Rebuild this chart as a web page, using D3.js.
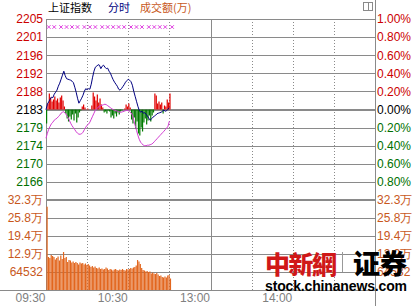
<!DOCTYPE html>
<html>
<head>
<meta charset="utf-8">
<script src="https://cdn.jsdelivr.net/npm/d3@7"></script>
<style>
  html, body { margin: 0; padding: 0; background: #fff; }
  svg { display: block; }
  text { font-family: "Liberation Sans", Arial, sans-serif; font-size: 12px; }
  .cjk { font-family: "Noto Sans CJK SC", sans-serif; }
</style>
</head>
<body>
<svg id="chart" width="419" height="306"></svg>
<script>
// Previous close of the index (0.00% line)
const prevClose = 2183.3;

// Tick labels
const pctTicks = [1, 0.8, 0.6, 0.4, 0.2, 0, -0.2, -0.4, -0.6, -0.8];
const priceLabels = ['2205', '2201', '2196', '2192', '2188', '2183', '2179', '2174', '2170', '2166'];
const pctLabels = ['1.00%', '0.80%', '0.60%', '0.40%', '0.20%', '0.00%', '0.20%', '0.40%', '0.60%', '0.80%'];
const volTicks = [322660, 258128, 193596, 129064, 64532];
const volLabels = ['32.3万', '25.8万', '19.4万', '12.9万', '64532'];
const timeTicks = [0, 60, 120, 180];
const timeLabels = ['09:30', '10:30', '13:00', '14:00'];
const dottedMinutes = [30, 60, 90, 150, 180, 210];
const solidMinutes = [0, 120, 240];

// Index per minute from 09:30
const prices = [
  2183.25, 2184.58, 2185.18, 2185.79, 2186.27, 2186.15, 2186.99, 2187.47, 2187.96, 2188.92,
  2189.65, 2190.61, 2191.58, 2192.54, 2191.46, 2190.73, 2190.61, 2190.49, 2190.37, 2190.13,
  2189.77, 2188.68, 2187.47, 2186.03, 2184.82, 2185.42, 2186.03, 2186.75, 2187.72, 2188.32,
  2188.08, 2188.32, 2188.20, 2189.40, 2191.09, 2192.54, 2193.51, 2193.75, 2194.11, 2193.99,
  2193.15, 2193.75, 2193.99, 2193.51, 2193.15, 2193.27, 2192.54, 2192.06, 2191.21, 2190.49,
  2189.89, 2189.40, 2188.92, 2188.20, 2187.96, 2188.32, 2188.80, 2189.28, 2189.89, 2190.25,
  2190.61, 2190.37, 2190.01, 2189.16, 2187.72, 2186.51, 2185.30, 2184.10, 2183.13, 2182.65,
  2182.89, 2182.41, 2182.53, 2182.17, 2181.68, 2181.20, 2180.72, 2181.08, 2181.44, 2181.68,
  2181.92, 2182.29, 2182.41, 2182.53, 2182.65, 2182.89, 2183.13, 2182.89, 2183.01, 2183.37,
  2183.73
];

// Unweighted index per minute
const unweighted = [
  2176.37, 2177.58, 2178.55, 2179.27, 2179.87, 2180.24, 2180.72, 2180.96, 2181.20, 2181.56,
  2181.92, 2182.41, 2182.65, 2182.77, 2182.41, 2181.92, 2181.44, 2180.72, 2179.99, 2179.39,
  2178.91, 2178.43, 2177.94, 2177.58, 2177.34, 2177.34, 2177.46, 2177.82, 2178.43, 2179.03,
  2179.51, 2179.75, 2180.24, 2180.96, 2181.68, 2182.41, 2183.13, 2183.49, 2183.85, 2184.10,
  2184.22, 2184.34, 2184.46, 2184.58, 2184.46, 2184.22, 2183.98, 2183.73, 2183.49, 2183.25,
  2183.13, 2183.01, 2182.89, 2182.77, 2182.65, 2182.65, 2182.77, 2182.89, 2183.01, 2183.13,
  2183.01, 2182.77, 2182.53, 2181.92, 2180.72, 2179.51, 2178.30, 2177.10, 2176.13, 2175.41,
  2175.05, 2174.69, 2174.56, 2174.56, 2174.69, 2174.69, 2174.81, 2174.93, 2175.17, 2175.53,
  2175.89, 2176.25, 2176.62, 2176.98, 2177.34, 2177.70, 2178.06, 2178.43, 2178.79, 2179.27,
  2180.48
];

// Buy / sell strength per minute (red up, green down)
const strength = [
  -14, 6, 16, 12, 8, 10, 13, 9, 11, 7,
  12, 14, 9, 3, -4, -9, -12, -7, -10, -5,
  -11, -4, -13, -8, -3, -1, 3, 5, 2, 0,
  1, 0, 0, 4, 17, 13, 9, 15, 7, 11,
  5, 2, -3, -2, -4, -1, -2, -8, -6, -9,
  -4, -7, -3, -5, -2, -1, 0, 1, 5, 3,
  6, 2, -10, -14, -8, -19, -12, -24, -26, -18,
  -22, -13, -9, -15, -11, -6, -12, -6, -3, 16,
  14, 6, 8, 5, 7, -4, 4, 3, 10, 7,
  16
];

// Turnover per minute (万)
const volumes = [
  298600, 118300, 114700, 125500, 121900, 118300, 109300, 114700, 120100, 105800,
  123700, 111100, 136200, 114700, 118300, 100400, 107500, 105800, 98600, 102200,
  96800, 100400, 96800, 91400, 98600, 95000, 96800, 91400, 95000, 89600,
  93200, 87800, 82500, 86000, 80700, 84200, 78900, 77100, 80700, 75300,
  77100, 73500, 75300, 80700, 77100, 71700, 75300, 73500, 69900, 73500,
  75300, 71700, 69900, 73500, 71700, 75300, 71700, 69900, 75300, 73500,
  75300, 78900, 77100, 80700, 82500, 87800, 107500, 102200, 93200, 78900,
  71700, 69900, 66300, 68100, 64500, 66300, 59200, 62700, 59200, 57400,
  60900, 55600, 50200, 52000, 46600, 44800, 48400, 44800, 52000, 53800,
  41200
];

// Minutes carrying the pink marker row
const markerMinutes = [2, 6, 11, 15, 19, 23, 28, 32, 36, 41, 45, 49, 53, 57, 62, 66, 70, 75, 79, 83, 87, 92];

const red = '#cc0000';
const green = '#007000';
const orange = '#c8581c';
const grid = '#8a8a8a';

const svg = d3.select('#chart');

// Layout
const plotLeft = 46, plotRight = 375, plotTop = 19, plotSplit = 200, plotBottom = 290;

// Scales
const x = d3.scaleLinear().domain([0, 240]).range([plotLeft, plotRight]);
const yPct = d3.scaleLinear().domain([-1, 1]).range([plotSplit, plotTop]);
const yPrice = p => yPct((p - prevClose) / prevClose * 100);
const yVol = d3.scaleLinear().domain([0, 322660]).range([plotBottom, plotSplit]);
const y0 = yPct(0);
const yForce = d3.scaleLinear().domain([-50, 50]).range([y0 + 50, y0 - 50]);

// Horizontal gridlines
const hLines = pctTicks.filter(d => d !== 0).map(yPct)
  .concat(volTicks.slice(1).map(yVol));
svg.append('g')
  .selectAll('line')
  .data(hLines)
  .enter().append('line')
    .attr('x1', plotLeft).attr('x2', plotRight)
    .attr('y1', d => Math.round(d) + 0.5).attr('y2', d => Math.round(d) + 0.5)
    .attr('stroke', grid).attr('stroke-width', 1);

// Thick lines: previous close and volume panel top
svg.append('g')
  .selectAll('line')
  .data([y0, yVol(322660)])
  .enter().append('line')
    .attr('x1', plotLeft).attr('x2', plotRight)
    .attr('y1', d => Math.round(d)).attr('y2', d => Math.round(d))
    .attr('stroke', grid).attr('stroke-width', 2);

// Vertical gridlines
svg.append('g')
  .selectAll('line')
  .data(dottedMinutes)
  .enter().append('line')
    .attr('x1', d => Math.round(x(d)) + 0.5).attr('x2', d => Math.round(x(d)) + 0.5)
    .attr('y1', plotTop).attr('y2', plotBottom)
    .attr('stroke', grid).attr('stroke-dasharray', '1,2');

svg.append('g')
  .selectAll('line')
  .data(solidMinutes)
  .enter().append('line')
    .attr('x1', d => Math.round(x(d)) + 0.5).attr('x2', d => Math.round(x(d)) + 0.5)
    .attr('y1', d => d === 240 ? 0 : plotTop).attr('y2', d => d === 240 ? 306 : plotBottom)
    .attr('stroke', grid);

// Bottom axis line
svg.append('line')
  .attr('x1', 0).attr('x2', plotRight)
  .attr('y1', plotBottom + 0.5).attr('y2', plotBottom + 0.5)
  .attr('stroke', grid);

// Volume bars
svg.append('g')
  .selectAll('rect')
  .data(volumes)
  .enter().append('rect')
    .attr('x', (d, i) => x(i) + 0.5)
    .attr('y', d => yVol(d))
    .attr('width', 1.2)
    .attr('height', d => plotBottom - yVol(d))
    .attr('fill', '#e2661e');

// Strength bars around the previous close
svg.append('g')
  .selectAll('rect')
  .data(strength)
  .enter().append('rect')
    .attr('x', (d, i) => x(i))
    .attr('y', d => Math.min(yForce(d), y0))
    .attr('width', 1.2)
    .attr('height', d => Math.abs(yForce(d) - y0))
    .attr('fill', d => d > 0 ? '#e00000' : '#007a00');

// Unweighted index line
const line = d3.line()
  .x((d, i) => x(i))
  .y(d => yPrice(d));

svg.append('path')
  .attr('d', line(unweighted))
  .attr('fill', 'none')
  .attr('stroke', '#d23cd2')
  .attr('stroke-width', 1);

// Index line
svg.append('path')
  .attr('d', line(prices))
  .attr('fill', 'none')
  .attr('stroke', '#000080')
  .attr('stroke-width', 1);

// Pink marker row
const cross = d3.symbol().type(d3.symbolTimes || d3.symbolCross).size(10);
svg.append('g')
  .selectAll('path')
  .data(markerMinutes)
  .enter().append('path')
    .attr('d', cross)
    .attr('transform', d => `translate(${x(d)},27)`)
    .attr('fill', 'none')
    .attr('stroke', '#e040e0')
    .attr('stroke-width', 1);

// Left and right price labels
const labelColor = d => d > 0 ? red : (d < 0 ? green : '#000');
svg.append('g')
  .selectAll('text')
  .data(pctTicks)
  .enter().append('text')
    .attr('x', plotLeft - 3)
    .attr('y', d => yPct(d))
    .attr('dy', '0.36em')
    .attr('text-anchor', 'end')
    .attr('fill', labelColor)
    .text((d, i) => priceLabels[i]);

svg.append('g')
  .selectAll('text')
  .data(pctTicks)
  .enter().append('text')
    .attr('x', plotRight + 2)
    .attr('y', d => yPct(d))
    .attr('dy', '0.36em')
    .attr('fill', labelColor)
    .text((d, i) => pctLabels[i]);

// Volume labels on both sides
svg.append('g')
  .selectAll('text')
  .data(volTicks)
  .enter().append('text')
    .attr('x', plotLeft - 3)
    .attr('y', d => yVol(d))
    .attr('dy', '0.36em')
    .attr('text-anchor', 'end')
    .attr('fill', orange)
    .text((d, i) => volLabels[i]);

svg.append('g')
  .selectAll('text')
  .data(volTicks)
  .enter().append('text')
    .attr('x', plotRight + 2)
    .attr('y', d => yVol(d))
    .attr('dy', '0.36em')
    .attr('fill', orange)
    .text((d, i) => volLabels[i]);

// Time labels
svg.append('g')
  .selectAll('text')
  .data(timeTicks)
  .enter().append('text')
    .attr('x', d => x(d) - 0.5)
    .attr('y', 298)
    .attr('dy', '0.36em')
    .attr('text-anchor', 'end')
    .attr('fill', '#808080')
    .text((d, i) => timeLabels[i]);

// Title row
const title = svg.append('text')
  .attr('class', 'cjk')
  .attr('y', 12)
  .style('font-size', '11px');
title.append('tspan').attr('x', 48).attr('fill', '#000').text('上证指数');
title.append('tspan').attr('x', 108).attr('fill', '#000080').text('分时');
title.append('tspan').attr('x', 140).attr('fill', orange).text('成交额(万)');

// Small window icon in the top right corner
const icon = svg.append('g').attr('stroke', grid).attr('fill', 'none');
icon.append('rect').attr('x', 363.5).attr('y', 2.5).attr('width', 9).attr('height', 8);
icon.append('line').attr('x1', 368.5).attr('x2', 368.5).attr('y1', 2.5).attr('y2', 10.5);

// Watermark
svg.append('text')
  .attr('class', 'cjk')
  .attr('x', 265).attr('y', 274)
  .attr('fill', '#d01818')
  .style('font-size', '25px').style('font-weight', 900)
  .attr('textLength', 72)
  .text('中新網');
svg.append('line')
  .attr('x1', 342.5).attr('x2', 342.5).attr('y1', 252).attr('y2', 272)
  .attr('stroke', '#999');
svg.append('text')
  .attr('class', 'cjk')
  .attr('x', 353).attr('y', 274)
  .attr('fill', '#000')
  .style('font-size', '27px').style('font-weight', 900)
  .text('证券');
svg.append('text')
  .attr('x', 265).attr('y', 291)
  .attr('fill', '#000')
  .attr('textLength', 142)
  .style('font-size', '14px').style('font-weight', 'bold')
  .text('stock.chinanews.com');
</script>
</body>
</html>
